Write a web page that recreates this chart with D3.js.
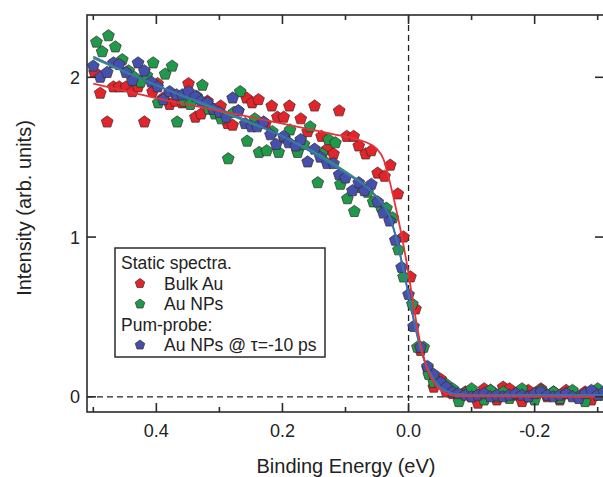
<!DOCTYPE html>
<meta charset="utf-8">
<style>
  body { margin: 0; background: #fff; }
  svg { font-family: "Liberation Sans", Arial, sans-serif; }
  .frame { fill: none; stroke: #2b2b2b; stroke-width: 1.6; }
  .tick-line { stroke: #2b2b2b; stroke-width: 1.6; }
  .lbl { fill: #222; font-size: 18px; }
  .leg { fill: #222; font-size: 17.5px; }
  .title { fill: #222; font-size: 20px; }
  .zero { stroke: #222; stroke-width: 1.3; stroke-dasharray: 6,4; fill: none; }
  .pt { stroke: #3a2a2a; stroke-width: 0.7; }
</style>
<body>
<script src="https://cdn.jsdelivr.net/npm/d3@7"></script>
<script>
// energy (eV), intensity (arb. units)
var bulkAu = [
  [0.498,2.03],[0.489,1.90],[0.478,1.72],[0.468,1.94],[0.459,1.94],[0.448,1.94],[0.438,1.91],
  [0.429,1.94],[0.419,1.72],[0.406,1.91],[0.398,1.96],[0.389,1.87],[0.379,1.83],[0.370,1.85],
  [0.359,1.84],[0.349,1.96],[0.338,1.75],[0.329,1.77],[0.319,1.85],[0.309,1.80],[0.298,1.82],
  [0.287,1.71],[0.279,1.70],[0.270,1.79],[0.257,1.87],[0.248,1.84],[0.238,1.86],[0.227,1.71],
  [0.217,1.82],[0.208,1.75],[0.198,1.75],[0.189,1.82],[0.176,1.54],[0.171,1.74],[0.160,1.66],
  [0.149,1.82],[0.138,1.63],[0.129,1.55],[0.119,1.52],[0.110,1.79],[0.098,1.63],[0.087,1.63],
  [0.079,1.57],[0.068,1.52],[0.059,1.54],[0.049,1.40],[0.038,1.38],[0.029,1.45],[0.017,1.27],
  [0.008,1.00],[-0.003,0.75],[-0.011,0.55],[-0.019,0.29],[-0.030,0.18],[-0.040,0.06],
  [-0.051,0.11],[-0.060,0.03],[-0.070,0.02],[-0.080,-0.01],[-0.090,0.03],[-0.100,0.00],
  [-0.110,-0.04],[-0.120,0.05],[-0.130,0.04],[-0.140,-0.02],[-0.150,0.06],[-0.160,0.05],
  [-0.170,0.01],[-0.180,-0.03],[-0.190,0.04],[-0.200,0.02],[-0.210,0.05],[-0.220,0.00],
  [-0.230,0.03],[-0.240,-0.02],[-0.250,0.04],[-0.260,0.01],[-0.270,0.00],[-0.280,0.03],
  [-0.290,-0.02],[-0.300,0.01],[-0.310,0.02]
];
var auNPs = [
  [0.495,2.22],[0.486,2.16],[0.476,2.26],[0.465,2.19],[0.454,2.11],[0.444,2.04],[0.435,2.00],
  [0.425,1.97],[0.415,2.01],[0.405,2.09],[0.397,1.84],[0.386,2.02],[0.375,2.07],[0.367,1.72],
  [0.356,1.85],[0.346,1.83],[0.336,1.88],[0.327,1.95],[0.317,1.80],[0.307,1.77],[0.297,1.74],
  [0.286,1.49],[0.277,1.78],[0.267,1.91],[0.256,1.60],[0.244,1.74],[0.237,1.53],[0.225,1.54],
  [0.216,1.66],[0.206,1.53],[0.197,1.62],[0.188,1.67],[0.176,1.53],[0.166,1.58],[0.156,1.69],
  [0.144,1.34],[0.137,1.52],[0.127,1.61],[0.116,1.59],[0.108,1.33],[0.097,1.24],[0.086,1.16],
  [0.075,1.31],[0.065,1.28],[0.056,1.22],[0.044,1.19],[0.035,1.18],[0.025,1.12],[0.016,0.92],
  [0.008,0.75],[-0.006,0.58],[-0.014,0.31],[-0.024,0.31],[-0.032,0.14],[-0.040,0.09],
  [-0.048,0.09],[-0.059,0.08],[-0.070,0.05],[-0.080,-0.03],[-0.090,0.02],[-0.100,0.05],
  [-0.110,0.01],[-0.120,-0.02],[-0.130,0.04],[-0.140,0.00],[-0.150,0.03],[-0.160,-0.01],
  [-0.170,0.02],[-0.180,0.05],[-0.190,0.00],[-0.200,-0.02],[-0.210,0.04],[-0.220,0.01],
  [-0.230,0.03],[-0.240,-0.01],[-0.250,0.02],[-0.260,0.04],[-0.270,0.00],[-0.280,-0.03],
  [-0.290,0.03],[-0.300,0.05],[-0.310,0.01]
];
var pumpProbe = [
  [0.500,2.07],[0.489,2.00],[0.478,2.03],[0.468,2.09],[0.459,2.08],[0.448,2.03],[0.438,1.98],
  [0.429,2.09],[0.419,2.04],[0.408,1.97],[0.398,1.94],[0.389,1.86],[0.379,1.91],[0.368,1.89],
  [0.359,1.89],[0.349,1.91],[0.338,1.88],[0.329,1.85],[0.319,1.84],[0.310,1.80],[0.300,1.78],
  [0.289,1.75],[0.279,1.87],[0.270,1.79],[0.259,1.71],[0.249,1.69],[0.240,1.69],[0.230,1.72],
  [0.219,1.64],[0.210,1.58],[0.198,1.63],[0.190,1.59],[0.179,1.57],[0.171,1.61],[0.160,1.47],
  [0.149,1.55],[0.140,1.50],[0.129,1.46],[0.119,1.46],[0.110,1.39],[0.100,1.37],[0.089,1.29],
  [0.079,1.34],[0.070,1.29],[0.059,1.33],[0.049,1.22],[0.040,1.15],[0.030,1.10],[0.021,0.98],
  [0.011,0.81],[0.000,0.64],[-0.008,0.44],[-0.019,0.31],[-0.030,0.19],[-0.040,0.14],
  [-0.051,0.09],[-0.060,0.06],[-0.070,0.03],[-0.079,0.02],[-0.090,0.01],[-0.100,0.00],
  [-0.110,0.01],[-0.120,0.02],[-0.130,0.00],[-0.140,0.01],[-0.150,0.00],[-0.160,0.01],
  [-0.170,0.02],[-0.180,0.01],[-0.190,0.00],[-0.200,0.02],[-0.210,0.03],[-0.220,0.01],
  [-0.230,0.00],[-0.240,0.01],[-0.250,0.02],[-0.260,0.00],[-0.270,-0.01],[-0.280,0.02],
  [-0.290,0.04],[-0.300,0.01],[-0.310,0.03]
];
// fit curves
var fitBulk = [
  [0.50,1.96],[0.40,1.87],[0.30,1.79],[0.20,1.71],[0.12,1.645],[0.08,1.61],[0.06,1.58],
  [0.05,1.55],[0.04,1.49],[0.03,1.35],[0.02,1.18],[0.01,0.99],[0.0,0.77],[-0.01,0.52],
  [-0.02,0.31],[-0.03,0.17],[-0.04,0.09],[-0.05,0.045],[-0.06,0.02],[-0.08,0.005],[-0.31,0.0]
];
var fitNPs = [
  [0.50,2.12],[0.40,1.95],[0.30,1.79],[0.20,1.63],[0.14,1.51],[0.10,1.41],[0.06,1.29],
  [0.04,1.20],[0.03,1.13],[0.02,1.00],[0.01,0.83],[0.0,0.64],[-0.01,0.45],[-0.02,0.29],
  [-0.03,0.18],[-0.04,0.11],[-0.05,0.06],[-0.06,0.035],[-0.08,0.015],[-0.12,0.01],[-0.31,0.01]
];
var fitPump = [
  [0.50,2.13],[0.40,1.95],[0.30,1.80],[0.20,1.63],[0.14,1.50],[0.10,1.40],[0.06,1.29],
  [0.04,1.20],[0.03,1.13],[0.02,1.00],[0.01,0.83],[0.0,0.64],[-0.01,0.45],[-0.02,0.29],
  [-0.03,0.18],[-0.04,0.11],[-0.05,0.06],[-0.06,0.035],[-0.08,0.015],[-0.12,0.01],[-0.31,0.01]
];
var xMajor = [0.4, 0.2, 0.0, -0.2];
var xMinor = [0.5, 0.3, 0.1, -0.1, -0.3];
var yTicks = [0, 1, 2];
var legendRows = [
  {text: "Static spectra."},
  {text: "Bulk Au", color: "#e3242b"},
  {text: "Au NPs", color: "#1f9a4b"},
  {text: "Pum-probe:"},
  {text: "Au NPs @ \u03c4=-10 ps", color: "#4550ad"}
];

var W = 603, H = 477;
// plot box (right edge sits just outside the window, as in the original crop)
var pL = 87, pR = 604, pT = 15, pB = 412;

var x = d3.scaleLinear().domain([0.51, -0.31]).range([pL, pR]);
var y = d3.scaleLinear().domain([-0.095, 2.39]).range([pB, pT]);

var svg = d3.select("body").append("svg").attr("width", W).attr("height", H);

function pentagon(r) {
  var pts = d3.range(5).map(function (k) {
    var a = -Math.PI / 2 + k * 2 * Math.PI / 5;
    return [r * Math.cos(a), r * Math.sin(a)];
  });
  return "M" + pts.join("L") + "Z";
}

svg.append("defs").append("clipPath").attr("id", "clip")
  .append("rect").attr("x", pL).attr("y", pT).attr("width", pR - pL).attr("height", pB - pT);

// zero lines
svg.append("line").attr("class", "zero")
  .attr("x1", x(0)).attr("x2", x(0)).attr("y1", pT).attr("y2", pB);
svg.append("line").attr("class", "zero")
  .attr("x1", pL).attr("x2", pR).attr("y1", y(0)).attr("y2", y(0));

var plot = svg.append("g").attr("clip-path", "url(#clip)");

var series = [
  {data: bulkAu, color: "#e3242b"},
  {data: auNPs, color: "#1f9a4b"},
  {data: pumpProbe, color: "#4550ad"}
];
series.forEach(function (s) {
  plot.append("g").selectAll("path")
    .data(s.data).enter().append("path")
    .attr("class", "pt")
    .attr("d", pentagon(6.2))
    .attr("transform", function (d) { return "translate(" + x(d[0]) + "," + y(d[1]) + ")"; })
    .attr("fill", s.color);
});

var line = d3.line()
  .x(function (d) { return x(d[0]); })
  .y(function (d) { return y(d[1]); })
  .curve(d3.curveMonotoneX);

[{d: fitNPs, c: "#2e9a6a"}, {d: fitPump, c: "#3d6fb8"}, {d: fitBulk, c: "#e5333b"}].forEach(function (f) {
  plot.append("path").datum(f.d)
    .attr("d", line).attr("fill", "none")
    .attr("stroke", f.c).attr("stroke-width", 1.8);
});

// frame and ticks
svg.append("rect").attr("class", "frame")
  .attr("x", pL).attr("y", pT).attr("width", pR - pL).attr("height", pB - pT);

function xTicks(vals, len) {
  vals.forEach(function (v) {
    svg.append("line").attr("class", "tick-line")
      .attr("x1", x(v)).attr("x2", x(v)).attr("y1", pT).attr("y2", pT + len);
    svg.append("line").attr("class", "tick-line")
      .attr("x1", x(v)).attr("x2", x(v)).attr("y1", pB).attr("y2", pB - len);
  });
}
xTicks(xMajor, 9);
xTicks(xMinor, 5);

yTicks.forEach(function (v) {
  svg.append("line").attr("class", "tick-line")
    .attr("x1", pL).attr("x2", pL + 9).attr("y1", y(v)).attr("y2", y(v));
  svg.append("line").attr("class", "tick-line")
    .attr("x1", pR - 9).attr("x2", pR).attr("y1", y(v)).attr("y2", y(v));
  svg.append("text").attr("class", "lbl")
    .attr("x", pL - 7).attr("y", y(v)).attr("dy", "0.36em")
    .attr("text-anchor", "end").text(d3.format("d")(v));
});

xMajor.forEach(function (v) {
  svg.append("text").attr("class", "lbl")
    .attr("x", x(v)).attr("y", 437)
    .attr("text-anchor", "middle").text(d3.format(".1f")(v).replace("\u2212", "-"));
});

svg.append("text").attr("class", "title")
  .attr("x", 346).attr("y", 473).attr("text-anchor", "middle")
  .text("Binding Energy (eV)");
svg.append("text").attr("class", "title")
  .attr("transform", "translate(31,208) rotate(-90)").attr("text-anchor", "middle")
  .text("Intensity (arb. units)");

// legend
var lg = svg.append("g");
lg.append("rect").attr("x", 115).attr("y", 248).attr("width", 210).attr("height", 109)
  .attr("fill", "#fff").attr("stroke", "#2b2b2b").attr("stroke-width", 1.5);
legendRows.forEach(function (r, i) {
  var by = 269 + i * 20.5;
  if (r.color) {
    lg.append("path").attr("class", "pt").attr("d", pentagon(5))
      .attr("transform", "translate(140," + (by - 6) + ")").attr("fill", r.color);
    lg.append("text").attr("class", "leg").attr("x", 164).attr("y", by).text(r.text);
  } else {
    lg.append("text").attr("class", "leg").attr("x", 121).attr("y", by).text(r.text);
  }
});
</script>
</body>
